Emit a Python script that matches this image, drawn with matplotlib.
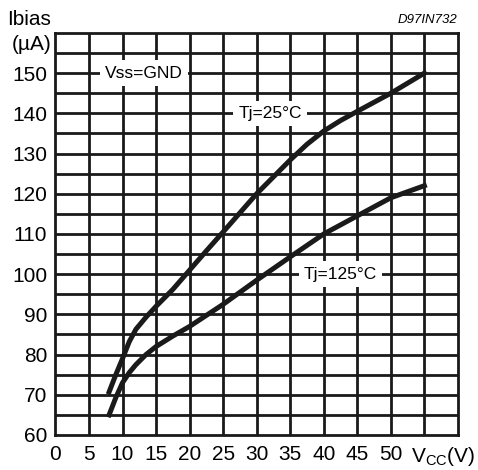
import matplotlib
matplotlib.use("Agg")
import matplotlib.pyplot as plt
import numpy as np

plt.rcParams["font.family"] = ["Liberation Sans", "DejaVu Sans"]
plt.rcParams["mathtext.fontset"] = "custom"
plt.rcParams["mathtext.rm"] = "Liberation Sans"

# Ibias vs Vcc
vcc_25 = [8, 9, 10, 11, 12, 13.5, 15, 17.5, 20, 22.5, 25, 30, 35, 37.5, 40, 42.5, 45, 50, 55]
ibias_25 = [70.7, 75, 79, 83.2, 86.3, 89.3, 92, 96.2, 101, 105.8, 110.5, 120, 128.4, 132.3, 135.6, 138.2, 140.5, 145, 150]
vcc_125 = [8, 9, 10, 11, 12, 13.5, 15, 17.5, 20, 25, 30, 35, 40, 45, 50, 55]
ibias_125 = [65, 69.3, 73, 75.5, 77.5, 80, 82, 84.6, 87, 92.5, 98.5, 104.3, 110, 114.5, 119, 122]

x_ticks = [0, 5, 10, 15, 20, 25, 30, 35, 40, 45, 50]
y_ticks = [60, 70, 80, 90, 100, 110, 120, 130, 140, 150]

fig = plt.figure(figsize=(4.78, 4.70), dpi=100)
ax = fig.add_axes([0.116, 0.0745, 0.842, 0.8555])

ax.set_xlim(0, 60)
ax.set_ylim(60, 160)
ax.set_xticks(x_ticks + [57.8])
ax.set_xticklabels([str(t) for t in x_ticks] + [r"V$_{\rm CC}$(V)"])
ax.set_yticks(y_ticks)
ax.set_yticklabels([str(t) for t in y_ticks])
ax.tick_params(which="both", length=0, labelsize=15, colors="black")
ax.tick_params(axis="x", pad=7)
ax.tick_params(axis="y", pad=6)

# 5 V by 5 uA grid
for gx in np.arange(5, 60, 5):
    ax.axvline(gx, color="#1a1a1a", linewidth=2.0, zorder=1)
for gy in np.arange(65, 160, 5):
    ax.axhline(gy, color="#1a1a1a", linewidth=2.0, zorder=1)
for sp in ax.spines.values():
    sp.set_linewidth(2.0)
    sp.set_color("#1a1a1a")

ax.plot(vcc_25, ibias_25, color="#1a1a1a", linewidth=3.6, solid_joinstyle="round", zorder=3)
ax.plot(vcc_125, ibias_125, color="#1a1a1a", linewidth=3.6, solid_joinstyle="round", zorder=3)

box = dict(boxstyle="square,pad=0.3", facecolor="white", edgecolor="none")
ax.text(13.2, 150, "Vss=GND", fontsize=12.5, ha="center", va="center", bbox=box, zorder=5)
ax.text(32, 140, "Tj=25°C", fontsize=12.5, ha="center", va="center", bbox=box, zorder=5)
ax.text(42.5, 100, "Tj=125°C", fontsize=12.5, ha="center", va="center", bbox=box, zorder=5)

fig.text(0.107, 0.958, "Ibias", fontsize=15, ha="right", va="center")
fig.text(0.107, 0.905, "(µA)", fontsize=15, ha="right", va="center")
fig.text(0.957, 0.957, "D97IN732", fontsize=9.5, style="italic", ha="right", va="center")

fig.savefig("out.png", dpi=100)
